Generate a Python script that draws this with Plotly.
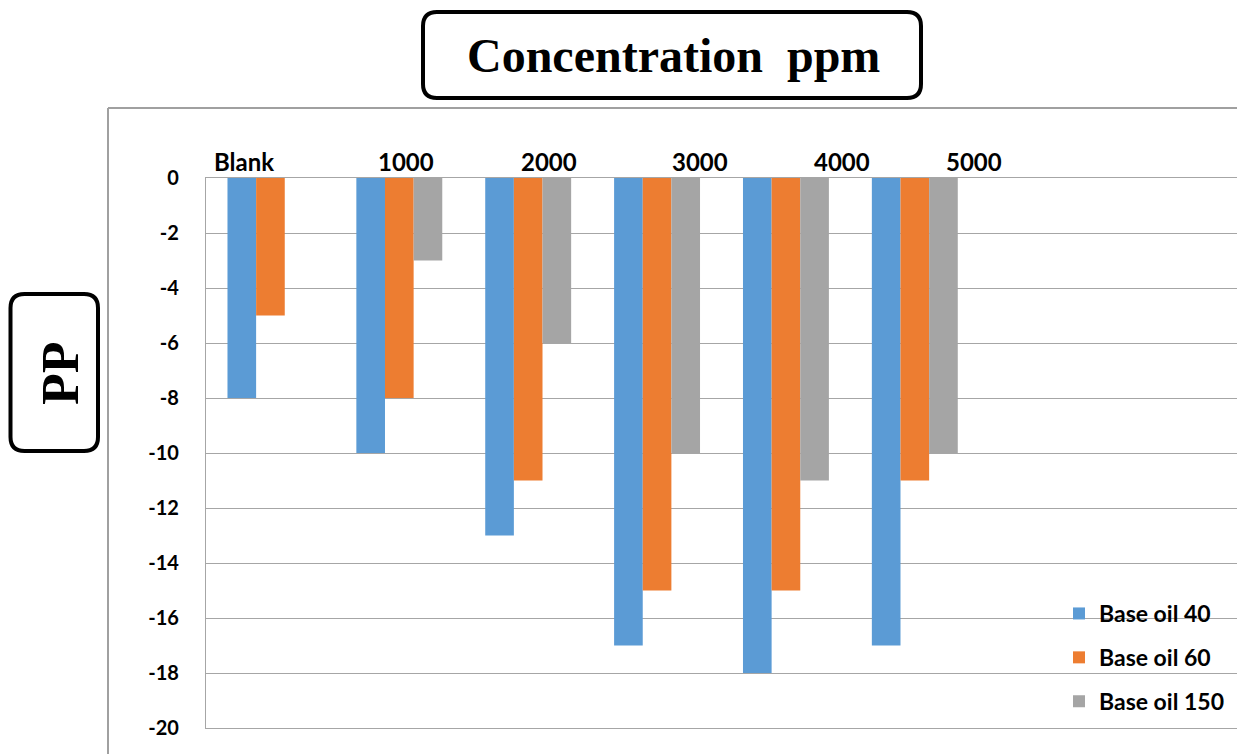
import plotly.graph_objects as go

# ---------------- data ----------------
CATEGORIES = ["Blank", "1000", "2000", "3000", "4000", "5000"]
SERIES_NAMES = ["Base oil 40", "Base oil 60", "Base oil 150"]
BASE_OIL_40 = [-8, -10, -13, -17, -18, -17]
BASE_OIL_60 = [-5, -8, -11, -15, -15, -11]
BASE_OIL_150 = [None, -3, -6, -10, -11, -10]
Y_TICK_VALUES = [0, -2, -4, -6, -8, -10, -12, -14, -16, -18, -20]
Y_TICK_LABELS = ["0", "-2", "-4", "-6", "-8", "-10", "-12", "-14", "-16", "-18", "-20"]
X_TITLE = "Concentration  ppm"
Y_TITLE = "PP"

# ---------------- styles / layout ----------------
COLORS = ["#5B9BD5", "#ED7D31", "#A5A5A5"]
GRID = "#A6A6A6"
W, H = 1237, 754
PL, PR, PT, PB = 206, 1237, 178, 728          # plot area in pixels
LABEL_SHIFT = [-26.5, 6.5, 20.5, 42.5, 56.5, 59.5]  # category label offsets (px)
SANS = "Lato"
SERIF = "Liberation Serif"


def px(x):
    return (x - PL) / (PR - PL)


def py(y):
    return (PB - y) / (PB - PT)


def rounded_rect(x0, y0, x1, y1, r):
    pts = [
        ("M", [(x0 + r, y0)]),
        ("L", [(x1 - r, y0)]),
        ("Q", [(x1, y0), (x1, y0 + r)]),
        ("L", [(x1, y1 - r)]),
        ("Q", [(x1, y1), (x1 - r, y1)]),
        ("L", [(x0 + r, y1)]),
        ("Q", [(x0, y1), (x0, y1 - r)]),
        ("L", [(x0, y0 + r)]),
        ("Q", [(x0, y0), (x0 + r, y0)]),
    ]
    s = ""
    for cmd, ps in pts:
        s += cmd + " ".join(f"{px(a):.5f},{py(b):.5f}" for a, b in ps)
    return s + "Z"


fig = go.Figure()
for name, vals, col in zip(SERIES_NAMES, [BASE_OIL_40, BASE_OIL_60, BASE_OIL_150], COLORS):
    fig.add_trace(go.Bar(
        x=CATEGORIES, y=vals, name=name, legendgroup=name,
        marker=dict(color=col, line=dict(width=0)),
    ))

annotations = []
for i, (cat, sh) in enumerate(zip(CATEGORIES, LABEL_SHIFT)):
    annotations.append(dict(
        x=i, y=0, xref="x", yref="y", text=cat, showarrow=False,
        xanchor="center", yanchor="bottom", xshift=sh, yshift=0,
        font=dict(family=SANS, size=24, color="black", weight=700),
    ))

annotations.append(dict(
    x=px(673), y=py(56), xref="paper", yref="paper",
    text=X_TITLE.replace(" ", "\u00a0"), showarrow=False,
    xanchor="center", yanchor="middle",
    font=dict(family=SERIF, size=48, color="black", weight=700),
))
annotations.append(dict(
    x=px(60), y=py(373), xref="paper", yref="paper",
    text=Y_TITLE, showarrow=False, textangle=-90,
    xanchor="center", yanchor="middle",
    font=dict(family=SERIF, size=52, color="black", weight=700),
))

shapes = [
    # outer chart border (left and top)
    dict(type="line", xref="paper", yref="paper", x0=px(108), y0=py(108), x1=px(108), y1=py(760),
         line=dict(color="#A0A0A0", width=2)),
    dict(type="line", xref="paper", yref="paper", x0=px(108), y0=py(108), x1=px(1240), y1=py(108),
         line=dict(color="#A0A0A0", width=2)),
    # title boxes
    dict(type="path", xref="paper", yref="paper", path=rounded_rect(423, 12, 921, 98, 14),
         line=dict(color="black", width=4), fillcolor="white"),
    dict(type="path", xref="paper", yref="paper", path=rounded_rect(10.5, 294, 98, 451, 14),
         line=dict(color="black", width=4), fillcolor="white"),
]

fig.update_layout(
    width=W, height=H, autosize=False,
    margin=dict(l=PL, r=W - PR, t=PT, b=H - PB, pad=0),
    paper_bgcolor="white", plot_bgcolor="white",
    barmode="group", bargap=1 / 3, bargroupgap=0,
    showlegend=True,
    legend=dict(
        x=px(1059), y=py(592), xanchor="left", yanchor="top",
        traceorder="grouped", tracegroupgap=11,
        bgcolor="rgba(0,0,0,0)", borderwidth=0,
        font=dict(family=SANS, size=23, color="black", weight=700),
    ),
    xaxis=dict(
        type="category", categoryorder="array", categoryarray=CATEGORIES,
        range=[-0.5, 7.5], showticklabels=False, ticks="",
        showgrid=False, zeroline=False,
        showline=True, mirror=True, linecolor=GRID, linewidth=1.3,
    ),
    yaxis=dict(
        range=[-20, 0], tickmode="array", tickvals=Y_TICK_VALUES, ticktext=Y_TICK_LABELS,
        ticks="outside", ticklen=22, tickcolor="rgba(0,0,0,0)",
        tickfont=dict(family=SANS, size=20, color="black", weight=700),
        showgrid=True, gridcolor=GRID, gridwidth=1.3, zeroline=False,
        showline=True, linecolor=GRID, linewidth=1.3,
    ),
    annotations=annotations,
    shapes=shapes,
)

fig.write_html("out.html")
